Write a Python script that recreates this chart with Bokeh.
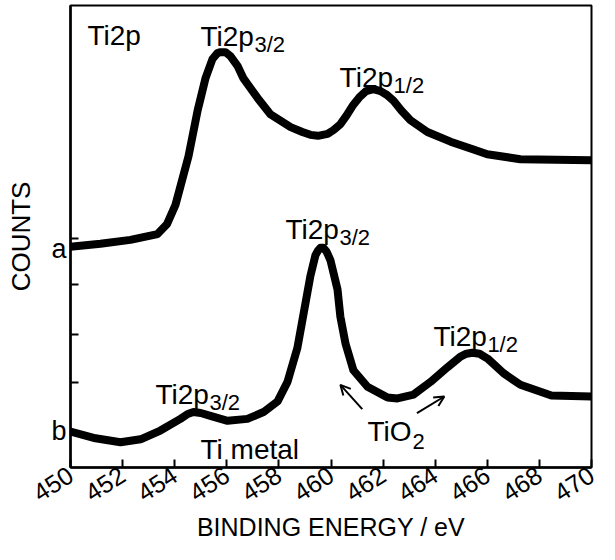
import math
from bokeh.plotting import figure
from bokeh.models import Range1d, LinearAxis, FixedTicker, Label, Arrow, OpenHead
from bokeh.embed import file_html
from bokeh.resources import INLINE

# ---- data (binding energy in eV, counts in arbitrary units) ----
energy_a = [450.0, 451.15, 452.3, 453.34, 453.7, 454.03, 454.53, 454.88, 455.18, 455.45,
            455.64, 455.76, 455.95, 456.14, 456.41, 456.64, 457.18, 457.68, 458.45, 458.9,
            459.21, 459.5, 459.87, 460.1, 460.36, 460.6, 460.86, 461.1, 461.35, 461.63,
            461.9, 462.15, 462.4, 462.7, 463.05, 463.70, 464.59, 465.47, 466.0, 467.27, 470.0]
counts_a = [227, 230, 234, 240, 250, 270, 320, 367, 400, 420,
            426, 427, 427, 423, 413, 400, 380, 363, 350, 345,
            342, 341, 343, 347, 353, 362, 373, 381, 387, 389,
            387, 383, 377, 367, 357, 345, 335, 327, 322, 317, 316]

energy_b = [450.0, 450.96, 451.92, 452.69, 453.45, 454.22, 454.5, 454.72, 455.0, 455.37,
            456.03, 456.79, 457.41, 457.95, 458.33, 458.71, 458.94, 459.21, 459.40, 459.5,
            459.6, 459.7, 459.83, 459.98, 460.25, 460.36, 460.56, 460.86, 461.40, 462.17,
            462.55, 463.17, 463.82, 464.47, 464.97, 465.2, 465.43, 465.7, 466.01, 466.62,
            467.27, 468.46, 470.0]
counts_b = [37, 30, 26, 29, 38, 50, 55, 57, 56, 53,
            48, 50, 57, 68, 88, 123, 157, 197, 218, 223,
            226, 226, 222, 213, 183, 155, 127, 100, 83, 72,
            71, 75, 88, 103, 114, 117, 118, 117, 112, 97,
            85, 74, 73]

x_ticks = [450, 452, 454, 456, 458, 460, 462, 464, 466, 468, 470]
y_ticks = [235, 188, 137, 87]
trace_label_pos = [225, 38]
trace_labels = ["a", "b"]

FONT = "Liberation Sans"

p = figure(width=599, height=544, output_backend="svg", toolbar_location=None,
           x_range=Range1d(450, 470), y_range=Range1d(0, 475),
           min_border_left=70, min_border_right=8, min_border_top=5, min_border_bottom=66,
           background_fill_color="white", border_fill_color="white")
p.grid.visible = False
p.outline_line_color = "black"
p.outline_line_width = 2

p.line(energy_a, counts_a, line_width=8, line_color="black", line_join="round", line_cap="round")
p.line(energy_b, counts_b, line_width=8, line_color="black", line_join="round", line_cap="round")

# x axis
xa = p.xaxis[0]
xa.ticker = FixedTicker(ticks=x_ticks)
xa.major_tick_in = 8
xa.major_tick_out = 0
xa.minor_tick_line_color = None
xa.axis_line_width = 2.5
xa.major_tick_line_width = 2
xa.major_label_orientation = math.pi / 5.5
xa.major_label_text_font = FONT
xa.major_label_text_font_size = "25px"
xa.major_label_text_color = "black"
xa.major_label_standoff = 5
xa.axis_label = "BINDING ENERGY / eV"
xa.axis_label_text_font = FONT
xa.axis_label_text_font_size = "25px"
xa.axis_label_text_font_style = "normal"
xa.axis_label_text_color = "black"
xa.axis_label_standoff = 0

# y axis (inner ticks only)
ya = p.yaxis[0]
ya.ticker = FixedTicker(ticks=y_ticks)
ya.major_tick_in = 8
ya.major_tick_out = 0
ya.minor_tick_line_color = None
ya.axis_line_width = 2.5
ya.major_tick_line_width = 2
ya.major_label_overrides = {t: "" for t in y_ticks}
ya.major_label_standoff = 0

# outer y axis with trace labels and title
ya2 = LinearAxis(ticker=FixedTicker(ticks=trace_label_pos),
                 major_label_overrides=dict(zip(trace_label_pos, trace_labels)),
                 axis_line_color=None, major_tick_line_color=None, minor_tick_line_color=None,
                 major_tick_in=0, major_tick_out=0, major_label_standoff=4,
                 major_label_text_font=FONT, major_label_text_font_size="27px",
                 major_label_text_color="black", major_label_orientation="horizontal",
                 axis_label="COUNTS", axis_label_text_font=FONT, axis_label_text_font_size="26px",
                 axis_label_text_font_style="normal", axis_label_text_color="black",
                 axis_label_standoff=12)
p.add_layout(ya2, "left")

# annotations
def txt(x, y, s, size="28px", xo=0, yo=0):
    p.add_layout(Label(x=x, y=y, text=s, x_offset=xo, y_offset=yo, text_font=FONT,
                       text_font_size=size, text_color="black", text_baseline="alphabetic",
                       text_align="left"))

SUBX = 54
txt(450.65, 444, "Ti2p")
txt(454.99, 443, "Ti2p")
txt(454.99, 443, "3/2", size="22px", xo=SUBX, yo=-8)
txt(460.33, 401, "Ti2p")
txt(460.33, 401, "1/2", size="22px", xo=SUBX, yo=-8)
txt(458.25, 245, "Ti2p")
txt(458.25, 245, "3/2", size="22px", xo=SUBX, yo=-8)
txt(453.26, 75, "Ti2p")
txt(453.26, 75, "3/2", size="22px", xo=SUBX, yo=-8)
txt(454.99, 18, "Ti metal")
txt(463.93, 135, "Ti2p")
txt(463.93, 135, "1/2", size="22px", xo=SUBX, yo=-8)
txt(461.40, 37, "TiO")
txt(461.40, 37, "2", size="22px", xo=45, yo=-10)

p.add_layout(Arrow(x_start=461.2, y_start=60, x_end=460.36, y_end=85, line_width=2,
                   line_color="black", end=OpenHead(size=10, line_width=2, line_color="black")))
p.add_layout(Arrow(x_start=463.3, y_start=56, x_end=464.35, y_end=73, line_width=2,
                   line_color="black", end=OpenHead(size=10, line_width=2, line_color="black")))

open("out.html", "w").write(file_html(p, INLINE))
